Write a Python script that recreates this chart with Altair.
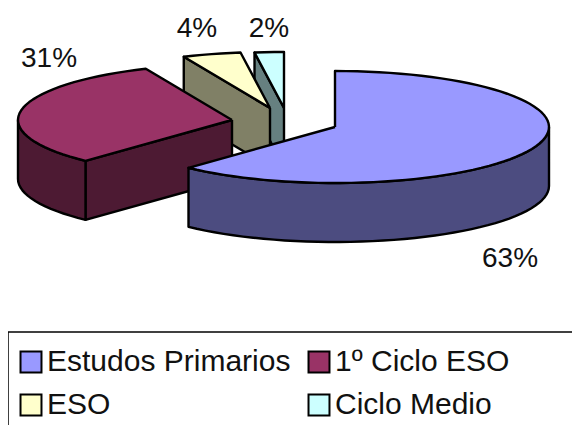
import math
import altair as alt
import pandas as pd

categories = ["Estudos Primarios", "1º Ciclo ESO", "ESO", "Ciclo Medio"]
# shares read from the angular sweep of each slice
shares = [62.0, 31.4, 4.4, 2.2]
labels = ["63%", "31%", "4%", "2%"]
top_colors = ["#9999ff", "#993366", "#ffffcc", "#ccffff"]
wall_colors = ["#4c4c80", "#4d1a33", "#808066", "#668080"]

# drawing parameters of the pseudo-3D pie
RX, RY, DEPTH = 214, 56, 59
centres = [(335, 127), (232, 120), (270, 108), (284, 108)]
label_pos = [(510, 259), (49, 59), (197, 29), (269, 29)]
draw_order = [3, 2, 1, 0]
legend_order = [0, 2, 1, 3]

X = alt.X("x:Q", axis=None, scale=alt.Scale(domain=[8, 572], range=[0, 564], nice=False, zero=False))
Y = alt.Y("y:Q", axis=None, scale=alt.Scale(domain=[425, 8], range=[417, 0], nice=False, zero=False))


def rim(cx, cy, a0, a1, dy=0):
    n = max(2, int(abs(a1 - a0) / 3) + 1)
    out = []
    for i in range(n + 1):
        a = math.radians(a0 + (a1 - a0) * i / n)
        out.append((cx + RX * math.sin(a), cy - RY * math.cos(a) + dy))
    return out


def poly(points, fill):
    pts = list(points) + [points[0]]
    df = pd.DataFrame({"x": [p[0] for p in pts], "y": [p[1] for p in pts], "seq": list(range(len(pts)))})
    return (
        alt.Chart(df)
        .mark_line(fill=fill, stroke="black", strokeWidth=2.4, strokeJoin="round", clip=True)
        .encode(x=X, y=Y, order="seq:Q")
    )


bounds = [0.0]
for s in shares:
    bounds.append(bounds[-1] + s * 3.6)

layers = []
for i in draw_order:
    a0, a1 = bounds[i], bounds[i + 1]
    cx, cy = centres[i]
    # side facing the viewer: first cut face (slices past the lower half)
    if a0 > 180:
        start = rim(cx, cy, a0, a0)[0]
        layers.append(poly([(cx, cy), start, (start[0], start[1] + DEPTH), (cx, cy + DEPTH)], wall_colors[i]))
    # visible outer wall (lower half of the ellipse)
    w0, w1 = max(a0, 90), min(a1, 270)
    if w1 > w0:
        upper = rim(cx, cy, w0, w1)
        lower = rim(cx, cy, w1, w0, DEPTH)
        layers.append(poly(upper + lower, wall_colors[i]))
    layers.append(poly([(cx, cy)] + rim(cx, cy, a0, a1), top_colors[i]))

text_df = pd.DataFrame({
    "x": [p[0] for p in label_pos],
    "y": [p[1] for p in label_pos],
    "t": labels,
})
texts = alt.Chart(text_df).mark_text(
    font="Liberation Sans", fontSize=28, color="#111111", align="center", baseline="middle"
).encode(x=X, y=Y, text="t:N")

frame_h = pd.DataFrame({"x": [8], "x2": [572], "y": [332]})
frame_v = pd.DataFrame({"x": [8], "y": [332], "y2": [425]})
rule_h = alt.Chart(frame_h).mark_rule(color="black", strokeWidth=1.5).encode(x=X, x2="x2:Q", y=Y)
rule_v = alt.Chart(frame_v).mark_rule(color="black", strokeWidth=1.5).encode(x=X, y=Y, y2="y2:Q")

legend_df = pd.DataFrame({"name": categories, "x": [300] * 4, "y": [300] * 4})
legend_layer = alt.Chart(legend_df).mark_square(size=0, opacity=1).encode(
    x=X,
    y=Y,
    color=alt.Color(
        "name:N",
        scale=alt.Scale(
            domain=[categories[i] for i in legend_order],
            range=[top_colors[i] for i in legend_order],
        ),
        legend=alt.Legend(
            title=None,
            orient="none",
            legendX=8,
            legendY=339,
            columns=2,
            padding=0,
            symbolType="square",
            symbolSize=440,
            symbolStrokeColor="black",
            symbolStrokeWidth=2,
            symbolOpacity=1,
            labelFont="Liberation Sans",
            labelFontSize=30,
            labelColor="#111111",
            labelLimit=400,
            labelOffset=1,
            columnPadding=13,
            rowPadding=13,
        ),
    ),
)

chart = (
    alt.layer(*layers, texts, rule_h, rule_v, legend_layer)
    .properties(width=564, height=417, padding=0, autosize=alt.AutoSizeParams(type="none"))
    .configure_view(stroke=None)
)
chart.save("out.html", embed_options={"renderer": "svg", "actions": False})
